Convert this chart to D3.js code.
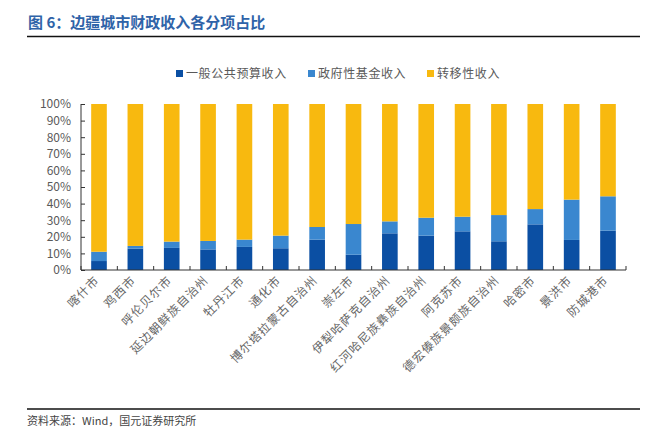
<!DOCTYPE html>
<html>
<head>
<meta charset="utf-8">
<script src="https://cdn.jsdelivr.net/npm/d3@7"></script>
<style>
body { margin: 0; background: #fff; }
svg { display: block; }
text { font-family: "Noto Sans CJK SC", "Noto Sans", sans-serif; }
</style>
</head>
<body>
<svg id="chart" width="658" height="432"></svg>
<script>
// categories and series (shares in %)
var cities = ["喀什市", "鸡西市", "呼伦贝尔市", "延边朝鲜族自治州", "牡丹江市", "通化市",
  "博尔塔拉蒙古自治州", "崇左市", "伊犁哈萨克自治州", "红河哈尼族彝族自治州", "阿克苏市",
  "德宏傣族景颇族自治州", "哈密市", "景洪市", "防城港市"];
var generalBudget = [5.4, 12.9, 13.3, 12.4, 13.9, 13.1, 18.3, 9.2, 22.1, 20.7, 23.3, 17.3, 27.5, 18.1, 23.7];
var govFund = [5.6, 1.6, 3.8, 5.1, 4.4, 7.6, 7.6, 18.5, 7.2, 10.8, 8.8, 15.8, 9.2, 24.3, 20.7];
var transfer = generalBudget.map(function(g, i) { return 100 - g - govFund[i]; });
var seriesNames = ["一般公共预算收入", "政府性基金收入", "转移性收入"];
var colors = ["#0b4fa3", "#3a87cf", "#f8b90f"];
var yTicks = [0, 10, 20, 30, 40, 50, 60, 70, 80, 90, 100];

var svg = d3.select("#chart");

// title
svg.append("text").attr("x", 28).attr("y", 28)
  .attr("fill", "#2f63a8").attr("font-size", 15).attr("font-weight", "bold")
  .text("图 6：边疆城市财政收入各分项占比");
svg.append("line").attr("x1", 27).attr("x2", 640).attr("y1", 36.5).attr("y2", 36.5)
  .attr("stroke", "#111").attr("stroke-width", 1.5);

var plotL = 81, plotR = 626, plotT = 104, plotB = 270;

var x = d3.scaleBand().domain(cities).range([plotL, plotR]).paddingInner(0.57).paddingOuter(0.28);
var y = d3.scaleLinear().domain([0, 100]).range([plotB, plotT]);

var rows = cities.map(function(c, i) {
  return { city: c, a: generalBudget[i], b: govFund[i], c: transfer[i] };
});
var stack = d3.stack().keys(["a", "b", "c"]);
var layers = stack(rows);

svg.append("g").selectAll("g").data(layers).enter().append("g")
  .attr("fill", function(d, i) { return colors[i]; })
  .selectAll("rect").data(function(d) { return d; }).enter().append("rect")
  .attr("x", function(d) { return x(d.data.city); })
  .attr("width", x.bandwidth())
  .attr("y", function(d) { return y(d[1]); })
  .attr("height", function(d) { return y(d[0]) - y(d[1]); });

// y axis
var yAxis = d3.axisLeft(y).tickValues(yTicks).tickSize(4).tickFormat(function(d) { return d + "%"; });
var gy = svg.append("g").attr("transform", "translate(" + plotL + ",0)").call(yAxis);
gy.select(".domain").attr("stroke", "#333").attr("d", "M0," + plotT + "V" + plotB);
gy.selectAll(".tick line").attr("stroke", "#333").attr("x1", 0).attr("x2", 4);
gy.selectAll(".tick text").attr("fill", "#595959").attr("font-size", 12)
  .attr("font-family", "Liberation Sans, Arial, sans-serif").attr("x", -10);

// x axis line with ticks between bars
svg.append("line").attr("x1", plotL).attr("x2", plotR).attr("y1", plotB).attr("y2", plotB)
  .attr("stroke", "#333").attr("stroke-width", 1.2);
svg.append("g").selectAll("line").data(d3.range(cities.length + 1)).enter().append("line")
  .attr("x1", function(i) { return plotL + (plotR - plotL) * i / cities.length; })
  .attr("x2", function(i) { return plotL + (plotR - plotL) * i / cities.length; })
  .attr("y1", plotB).attr("y2", plotB - 4)
  .attr("stroke", "#333");

// category labels
svg.append("g").selectAll("text").data(cities).enter().append("text")
  .attr("transform", function(d) {
    return "translate(" + (x(d) + x.bandwidth() / 2 + 1) + "," + (plotB + 11) + ") rotate(-45)";
  })
  .attr("text-anchor", "end")
  .attr("fill", "#666").attr("font-size", 12).attr("letter-spacing", 1)
  .text(function(d) { return d; });

// legend
var legendX = [176, 308, 427];
var lg = svg.append("g").selectAll("g").data(seriesNames).enter().append("g")
  .attr("transform", function(d, i) { return "translate(" + legendX[i] + ",74)"; });
lg.append("rect").attr("x", 0).attr("y", -4).attr("width", 7).attr("height", 7)
  .attr("fill", function(d, i) { return colors[i]; });
lg.append("text").attr("x", 10).attr("y", 4).attr("font-size", 12).attr("letter-spacing", 0.6)
  .attr("fill", "#595959")
  .text(function(d) { return d; });

// footer
svg.append("line").attr("x1", 27).attr("x2", 640).attr("y1", 409).attr("y2", 409)
  .attr("stroke", "#111").attr("stroke-width", 1.5);
svg.append("text").attr("x", 27).attr("y", 425).attr("font-size", 11).attr("fill", "#444")
  .text("资料来源：Wind，国元证券研究所");
</script>
</body>
</html>
